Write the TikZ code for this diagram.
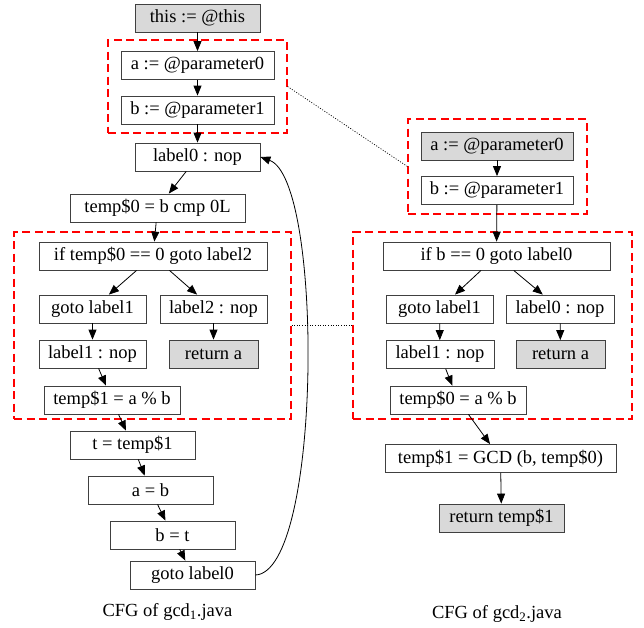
\documentclass[tikz,border=0pt]{standalone}
\usepackage{fontspec}
\setmainfont{Liberation Serif}
\usetikzlibrary{arrows.meta}

\begin{document}
\begin{tikzpicture}[x=1pt,y=-1pt,
        stmt/.style={draw=black!75,line width=0.8pt,minimum height=28pt,inner sep=0pt,font=\fontsize{18.5}{22}\selectfont},
        entry/.style={stmt,fill=gray!30},
        group/.style={draw=red,line width=1.2pt,dash pattern=on 8pt off 4.5pt},
        flow/.style={line width=0.8pt,-{Triangle[length=10pt,width=8pt]}},
        link/.style={line width=0.7pt,dash pattern=on 1pt off 1.6pt},
        caption/.style={font=\fontsize{18.5}{22}\selectfont}
    ]
        \useasboundingbox (0,0) rectangle (644,627);

        % Define the groups
        \node[group,minimum width=179pt,minimum height=93pt] (g1) at (197.5,86.5) {};
        \node[group,minimum width=277pt,minimum height=187pt] (g2) at (152.5,325.5) {};
        \node[group,minimum width=179pt,minimum height=95pt] (g3) at (497.5,166.5) {};
        \node[group,minimum width=279pt,minimum height=187pt] (g4) at (492.5,325.5) {};

        % Define the nodes of gcd1
        \node[entry,minimum width=125pt] (this) at (197.5,18) {this := @this};
        \node[stmt,minimum width=153pt] (par0) at (197.5,65.5) {a := @parameter0};
        \node[stmt,minimum width=153pt] (par1) at (197.5,110) {b := @parameter1};
        \node[stmt,minimum width=125pt] (lab0) at (197.5,157) {label0 : nop};
        \node[stmt,minimum width=175pt] (cmp) at (157.5,208) {temp\$0 = b cmp 0L};
        \node[stmt,minimum width=228pt] (iftest) at (153,256) {if temp\$0 == 0 goto label2};
        \node[stmt,minimum width=107pt] (goto1) at (92.5,309) {goto label1};
        \node[stmt,minimum width=107pt] (lab2) at (213.5,309) {label2 : nop};
        \node[stmt,minimum width=107pt] (lab1) at (92.5,354) {label1 : nop};
        \node[entry,minimum width=89pt] (reta) at (213.5,354) {return a};
        \node[stmt,minimum width=136pt] (rem) at (112,400) {temp\$1 = a \% b};
        \node[stmt,minimum width=125pt] (tset) at (132.5,445) {t = temp\$1};
        \node[stmt,minimum width=125pt] (aset) at (150.5,490) {a = b};
        \node[stmt,minimum width=125pt] (bset) at (172.5,535) {b = t};
        \node[stmt,minimum width=125pt] (goto0) at (192.5,575) {goto label0};

        % Define the nodes of gcd2
        \node[entry,minimum width=152pt] (rpar0) at (497,146) {a := @parameter0};
        \node[stmt,minimum width=152pt] (rpar1) at (497,190.5) {b := @parameter1};
        \node[stmt,minimum width=227pt] (rif) at (496.5,256) {if b == 0 goto label0};
        \node[stmt,minimum width=107pt] (rgoto1) at (439.5,309) {goto label1};
        \node[stmt,minimum width=108pt] (rlab0) at (560,309) {label0 : nop};
        \node[stmt,minimum width=108pt] (rlab1) at (440,354.5) {label1 : nop};
        \node[entry,minimum width=89pt] (rreta) at (560.5,354.5) {return a};
        \node[stmt,minimum width=136pt] (rrem) at (458,400) {temp\$0 = a \% b};
        \node[stmt,minimum width=231pt] (gcd) at (500.5,458.5) {temp\$1 = GCD (b, temp\$0)};
        \node[entry,minimum width=125pt] (ret1) at (501.5,518) {return temp\$1};

        % Edges of gcd1
        \draw[flow] (this) -- (par0);
        \draw[flow] (par0) -- (par1);
        \draw[flow] (par1) -- (lab0);
        \draw[flow] (lab0) -- (cmp);
        \draw[flow] (cmp) -- (iftest);
        \draw[flow] (iftest) -- (goto1);
        \draw[flow] (iftest) -- (lab2);
        \draw[flow] (goto1) -- (lab1);
        \draw[flow] (lab2) -- (reta);
        \draw[flow] (lab1) -- (rem);
        \draw[flow] (rem) -- (tset);
        \draw[flow] (tset) -- (aset);
        \draw[flow] (aset) -- (bset);
        \draw[flow] (bset) -- (goto0);
        \draw[flow] (goto0.east) .. controls (322,572) and (324,180) .. (lab0.east);

        % Edges of gcd2
        \draw[flow] (rpar0) -- (rpar1);
        \draw[flow] (rpar1) -- (rif);
        \draw[flow] (rif) -- (rgoto1);
        \draw[flow] (rif) -- (rlab0);
        \draw[flow] (rgoto1) -- (rlab1);
        \draw[flow] (rlab0) -- (rreta);
        \draw[flow] (rlab1) -- (rrem);
        \draw[flow] (rrem) -- (gcd);
        \draw[flow] (gcd) -- (ret1);

        % Matching groups
        \draw[link] (g1.east) -- (g3.west);
        \draw[link] (g2.east) -- (g4.west);

        % Captions
        \node[caption] (cap1) at (167.5,612) {CFG of gcd\textsubscript{1}.java};
        \node[caption] (cap2) at (497,614) {CFG of gcd\textsubscript{2}.java};
    \end{tikzpicture}
\end{document}
